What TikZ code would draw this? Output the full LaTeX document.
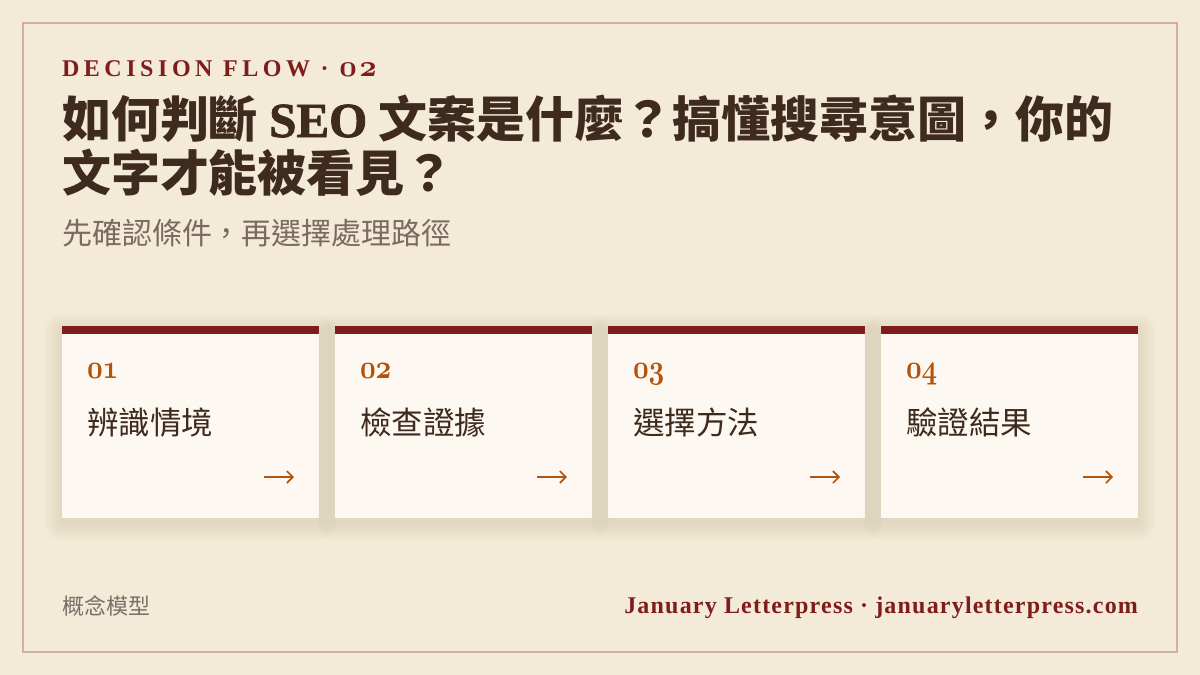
\documentclass[tikz,border=0pt]{standalone}
\usepackage{graphicx}
\usepackage{fontspec}
\setmainfont{Liberation Serif}
\newfontfamily\cjk{Noto Sans CJK TC}
\newfontfamily\serifbf{Liberation Serif Bold}
\newfontfamily\serifheavy{Liberation Serif Bold}[FakeBold=1.6]
\usetikzlibrary{arrows.meta}
\definecolor{bgc}{HTML}{F3EAD8}
\definecolor{framec}{HTML}{D2AFA2}
\definecolor{cardc}{HTML}{FDF9F2}
\definecolor{barc}{HTML}{7F1D1D}
\definecolor{numc}{HTML}{B45309}
\definecolor{titlec}{HTML}{3F2A1E}
\definecolor{subc}{HTML}{7C6A5E}
\definecolor{footc}{HTML}{7A6E66}
\definecolor{shadc}{HTML}{B9A27A}
\newcommand{\osn}[1]{{\fontsize{24.88}{26}\usefont{OML}{cmm}{b}{it}#1}}
\tikzset{
  txt/.style={inner sep=0pt, outer sep=0pt, anchor=base west},
  cardnum/.style={txt, text=numc},
  cardlabel/.style={txt, text=titlec, font=\cjk\fontsize{31.5}{34}\selectfont},
  nextarrow/.style={draw=numc, line width=1.6pt, -{Straight Barb[length=6pt,width=12pt,line width=1.6pt]}},
}
\begin{document}
\begin{tikzpicture}[x=1pt,y=-1pt]
\useasboundingbox (0,0) rectangle (1200,675);
\fill[bgc] (0,0) rectangle (1200,675);
\draw[framec, line width=2pt] (23,23) rectangle (1177,652);

\node[txt, text=barc, font=\serifbf\mdseries\fontsize{24}{26}\selectfont] (kicker) at (62,76)
  {\addfontfeature{LetterSpace=19}DECISION FLOW · \scalebox{1.22}{\osn{0}}\hspace{2.5pt}\scalebox{1.22}{\osn{2}}};
\node[txt, text=titlec, font=\cjk\bfseries\fontsize{49}{55}\selectfont] (title1) at (62,137)
  {如何判斷 {\serifheavy\mdseries SEO} 文案是什麼？搞懂搜尋意圖，你的};
\node[txt, text=titlec, font=\cjk\bfseries\fontsize{49}{55}\selectfont] (title2) at (62,191)
  {文字才能被看見？};
\node[txt, text=subc, font=\cjk\fontsize{30}{32}\selectfont] (sub) at (62,244)
  {先確認條件，再選擇處理路徑};

\foreach \x/\n/\lab [count=\i] in {62/01/辨識情境, 335/02/檢查證據, 608/03/選擇方法, 881/04/驗證結果}{
  \foreach \s in {1,...,18}{
    \fill[shadc, opacity=0.011, rounded corners=\s pt] (\x-\s,326-\s+5) rectangle (\x+257+\s,518+\s+5);
  }
  \fill[cardc] (\x,326) rectangle (\x+257,518);
  \fill[barc] (\x,326) rectangle (\x+257,334);
  \node[cardnum] (num\i) at (\x+25,378) {\scalebox{1.1}[1.35]{\osn{\n}}};
  \node[cardlabel] (lab\i) at (\x+25,434) {\lab};
  \coordinate (as\i) at (\x+202,477);
  \coordinate (ae\i) at (\x+232,477);
  \draw[nextarrow] (as\i) -- (ae\i);
}

\node[txt, text=footc, font=\cjk\fontsize{22}{24}\selectfont] (foot) at (62,614) {概念模型};
\node[inner sep=0pt, outer sep=0pt, anchor=base east, text=barc, font=\serifbf\mdseries\fontsize{24}{26}\selectfont] (brand) at (1138,613)
  {\addfontfeature{LetterSpace=5}January Letterpress · januaryletterpress.com};
\end{tikzpicture}
\end{document}
